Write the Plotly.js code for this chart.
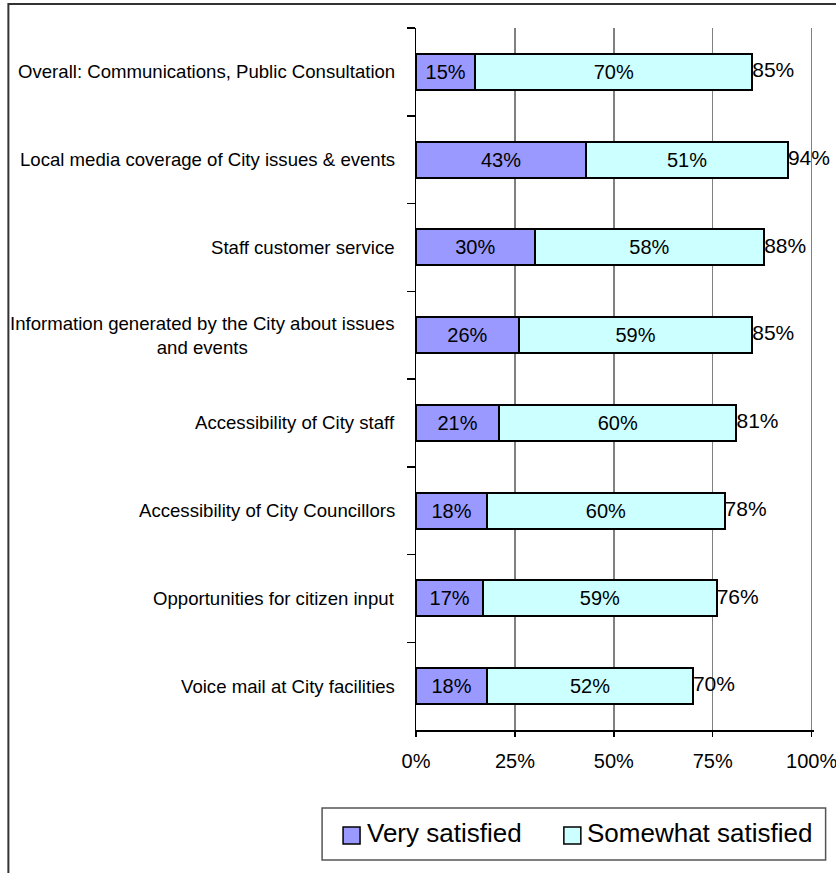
<!DOCTYPE html>
<html>
<head>
<meta charset="utf-8">
<script src="https://cdn.plot.ly/plotly-3.0.1.min.js"></script>
<style>
  html, body { margin: 0; padding: 0; background: #ffffff; }
  #chart { width: 836px; height: 873px; }
</style>
</head>
<body>
<div id="chart"></div>
<script>
// ---- Data ----
const categories = [
  "Overall: Communications, Public Consultation",
  "Local media coverage of City issues & events",
  "Staff customer service",
  "Information generated by the City about issues<br>and events",
  "Accessibility of City staff",
  "Accessibility of City Councillors",
  "Opportunities for citizen input",
  "Voice mail at City facilities"
];
const seriesNames = ["Very satisfied", "Somewhat satisfied"];
const verySatisfied = [15, 43, 30, 26, 21, 18, 17, 18];
const somewhatSatisfied = [70, 51, 58, 59, 60, 60, 59, 52];
const totals = [85, 94, 88, 85, 81, 78, 76, 70];
const xTickValues = [0, 25, 50, 75, 100];
const xTickLabels = ["0%", "25%", "50%", "75%", "100%"];
const seriesColors = ["#9999FF", "#CCFFFF"];

// ---- Layout geometry (pixels) ----
const W = 836, H = 873;
const XMAX = 100.6;                 // small headroom so the 100% gridline is drawn
const L = 416, P100 = 812, T = 28, B = 730;
const pw = (P100 - L) * XMAX / 100;  // plot width in px
const R = L + pw;
const ph = B - T;
const px = v => (v - L) / pw;
const py = v => (B - v) / ph;
const FONT = "Liberation Sans, Arial, Helvetica, sans-serif";

const barCommon = {
  type: "bar",
  orientation: "h",
  y: categories,
  textposition: "inside",
  insidetextanchor: "middle",
  constraintext: "none",
  textangle: 0,
  texttemplate: "%{x}%",
  textfont: { family: FONT, size: 20, color: "#000000" },
  insidetextfont: { family: FONT, size: 20, color: "#000000" },
  hoverinfo: "skip",
  showlegend: false
};

const traces = [
  Object.assign({}, barCommon, {
    name: seriesNames[0],
    x: verySatisfied,
    marker: { color: seriesColors[0], line: { color: "#000000", width: 2 } }
  }),
  Object.assign({}, barCommon, {
    name: seriesNames[1],
    x: somewhatSatisfied,
    marker: { color: seriesColors[1], line: { color: "#000000", width: 2 } }
  }),
  {
    type: "scatter",
    mode: "text",
    x: totals,
    y: categories,
    text: totals.map(v => v + "%"),
    textposition: "middle right",
    textfont: { family: FONT, size: 21, color: "#000000" },
    cliponaxis: false,
    hoverinfo: "skip",
    showlegend: false
  }
];

// Category labels (centered multi-line, right aligned block)
const annotations = categories.map(c => ({
  xref: "paper", yref: "y",
  x: 0, y: c,
  xanchor: "right", yanchor: "middle",
  xshift: -19,
  text: c,
  align: "center",
  showarrow: false,
  font: { family: FONT, size: 18.6, color: "#000000" }
}));

// Legend (manual)
const legendItems = [
  { sx0: 343, sx1: 360, tx: 365 },
  { sx0: 564, sx1: 581, tx: 585 }
];
const shapes = [
  // outer chart border
  { type: "rect", xref: "paper", yref: "paper",
    x0: px(8), x1: px(860), y0: py(900), y1: py(4),
    line: { color: "#333333", width: 2 }, fillcolor: "rgba(0,0,0,0)" },
  // legend box
  { type: "rect", xref: "paper", yref: "paper",
    x0: px(322), x1: px(826), y0: py(860), y1: py(808),
    line: { color: "#555555", width: 1.5 }, fillcolor: "#ffffff" }
];
legendItems.forEach((it, i) => {
  shapes.push({ type: "rect", xref: "paper", yref: "paper",
    x0: px(it.sx0), x1: px(it.sx1), y0: py(844), y1: py(827),
    line: { color: "#000000", width: 1.5 }, fillcolor: seriesColors[i] });
  annotations.push({ xref: "paper", yref: "paper",
    x: px(it.tx), y: py(833), xanchor: "left", yanchor: "middle",
    text: seriesNames[i], showarrow: false,
    font: { family: FONT, size: 26, color: "#000000" } });
});

const layout = {
  width: W, height: H,
  margin: { l: L, r: W - R, t: T, b: H - B, pad: 0 },
  paper_bgcolor: "#ffffff",
  plot_bgcolor: "#ffffff",
  barmode: "stack",
  bargap: 0.59,
  showlegend: false,
  font: { family: FONT, color: "#000000" },
  xaxis: {
    range: [0, XMAX],
    tickmode: "array",
    tickvals: xTickValues,
    ticktext: xTickLabels,
    ticks: "outside", ticklen: 5, tickwidth: 1.5, tickcolor: "#000000",
    ticklabelstandoff: 7,
    ticklabeloverflow: "allow",
    tickfont: { family: FONT, size: 20, color: "#000000" },
    showline: true, linecolor: "#000000", linewidth: 1.5,
    showgrid: true, gridcolor: "#808080", gridwidth: 1.5,
    zeroline: false,
    fixedrange: true
  },
  yaxis: {
    type: "category",
    autorange: "reversed",
    tickson: "boundaries",
    ticks: "outside", ticklen: 8, tickwidth: 1.5, tickcolor: "#000000",
    showticklabels: false,
    showline: true, linecolor: "#000000", linewidth: 1.5,
    showgrid: false, zeroline: false,
    fixedrange: true
  },
  annotations: annotations,
  shapes: shapes
};

Plotly.newPlot("chart", traces, layout, { displayModeBar: false, staticPlot: true });
</script>
</body>
</html>
